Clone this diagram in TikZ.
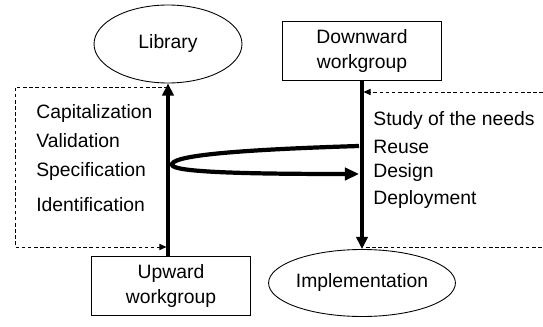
\documentclass[tikz,border=0pt]{standalone}
\usepackage{fontspec}
\setmainfont{Liberation Sans}
\usetikzlibrary{shapes,arrows.meta}

\begin{document}
\begin{tikzpicture}[x=0.02cm,y=-0.02cm,
  every node/.style={font=\fontsize{11}{14}\selectfont},
  blob/.style={draw,ellipse,inner sep=0pt,line width=0.5pt},
  group/.style={draw,rectangle,minimum width=3.18cm,minimum height=1.18cm,align=center,inner sep=0pt,line width=0.5pt},
  flow/.style={-{Triangle[length=7pt,width=6.5pt]},line width=1.8pt},
  swing/.style={-{Triangle[length=8pt,width=7pt]},line width=2.4pt},
  dashline/.style={dash pattern=on 2pt off 1.5pt,line width=0.5pt},
  feed/.style={dashline,-{Triangle[length=4pt,width=3.5pt]}},
  task/.style={anchor=west,inner sep=0pt}]
\useasboundingbox (0,0) rectangle (543,327);

\node[blob,minimum width=2.96cm,minimum height=1.56cm] (lib) at (168,44) {Library};
\node[blob,minimum width=3.04cm,minimum height=1.34cm] (impl) at (362,283) {Implementation};
\node[group] (down) at (362,51) {Downward\\workgroup};
\node[group] (up) at (171,286) {Upward\\workgroup};

% upward tasks
\node[task] (cap) at (36,114) {Capitalization};
\node[task] (val) at (36,141) {Validation};
\node[task] (spec) at (36,172) {Specification};
\node[task] (ident) at (36,205) {Identification};
% downward tasks
\node[task] (study) at (373,121) {Study of the needs};
\node[task] (reuse) at (373,147) {Reuse};
\node[task] (design) at (373,173) {Design};
\node[task] (deploy) at (373,200) {Deployment};

\coordinate (ltop) at (168,87);
\coordinate (lbot) at (166.5,247);
\coordinate (rtop) at (363.5,92);
\coordinate (rbot) at (366,247);
\coordinate (loopin) at (359,146);
\coordinate (loopout) at (359,174);

\draw[flow] (up.north -| lib.south) -- (lib.south); % upward - library
\draw[flow] (down.south) -- (impl.north); % downward - implementation
\draw[swing] (loopin) .. controls (230,150) and (170,156) .. (172,165)
  .. controls (174,172) and (240,174) .. (loopout); % reuse loop
\draw[feed] (ltop) -- (15,87) -- (15,247) -- (lbot); % left feedback
\draw[feed] (543,92) -- (rtop); % right feedback
\draw[dashline] (rbot) -- (543,247);

\end{tikzpicture}
\end{document}
